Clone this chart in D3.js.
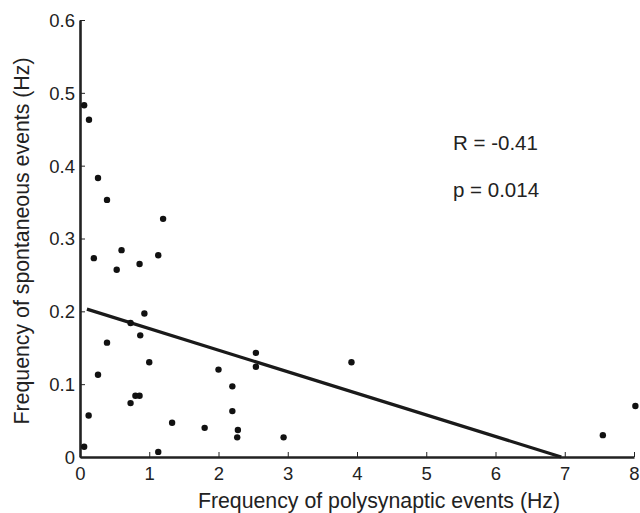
<!DOCTYPE html>
<html>
<head>
<meta charset="utf-8">
<script src="https://cdn.jsdelivr.net/npm/d3@7/dist/d3.min.js"></script>
<style>
  body { margin: 0; background: #fff; }
  svg text { font-family: "Liberation Sans", Arial, Helvetica, sans-serif; fill: #222; }
</style>
</head>
<body>
<div class="chart"></div>
<script>
// polysynaptic vs spontaneous event frequency
var polyHz = [0.06, 0.13, 0.26, 0.39, 1.2, 0.2, 0.6, 0.53, 0.86, 1.13, 0.93, 0.73, 0.87, 0.39,
  1.0, 0.26, 0.80, 0.86, 0.73, 0.125, 0.06, 1.13, 1.33, 1.8, 2.0, 2.2, 2.2, 2.28, 2.27,
  2.54, 2.54, 3.92, 2.94, 7.55, 8.02];
var spontHz = [0.483, 0.463, 0.383, 0.353, 0.327, 0.273, 0.284, 0.257, 0.265, 0.277, 0.197, 0.184, 0.167, 0.157,
  0.130, 0.113, 0.084, 0.084, 0.074, 0.057, 0.014, 0.007, 0.047, 0.040, 0.120, 0.097, 0.063, 0.037, 0.027,
  0.143, 0.124, 0.130, 0.027, 0.030, 0.070];

// regression line end points
var fitX = [0.1, 6.95];
var fitY = [0.203, 0];

var xTicks = [0, 1, 2, 3, 4, 5, 6, 7, 8];
var yTicks = [0, 0.1, 0.2, 0.3, 0.4, 0.5, 0.6];
var statLabels = ["R = -0.41", "p = 0.014"];

var svgWidth = 640;
var svgHeight = 513;
var margin = { top: 20, right: 6, bottom: 56, left: 80 };
var width = 634 - margin.left;
var height = 457 - margin.top;

var svg = d3.select(".chart")
  .append("svg")
  .attr("width", svgWidth)
  .attr("height", svgHeight);

var chartGroup = svg.append("g")
  .attr("transform", `translate(${margin.left}, ${margin.top})`);

var xScale = d3.scaleLinear().domain([0, 8]).range([0, width]);
var yScale = d3.scaleLinear().domain([0, 0.6]).range([height, 0]);

var bottomAxis = d3.axisBottom(xScale)
  .tickValues(xTicks)
  .tickFormat(d3.format("d"))
  .tickSizeInner(-5)
  .tickSizeOuter(0)
  .tickPadding(10);

var leftAxis = d3.axisLeft(yScale)
  .tickValues(yTicks)
  .tickFormat(d => d === 0 ? "0" : d3.format(".1f")(d))
  .tickSizeInner(-5)
  .tickSizeOuter(0)
  .tickPadding(5);

var xAxisG = chartGroup.append("g")
  .attr("transform", `translate(0, ${height})`)
  .call(bottomAxis);

var yAxisG = chartGroup.append("g")
  .call(leftAxis);

[xAxisG, yAxisG].forEach(function(g) {
  g.select(".domain").attr("stroke", "#222").attr("stroke-width", 2.6);
  g.selectAll(".tick line").attr("stroke", "#222").attr("stroke-width", 1);
  g.selectAll(".tick text").attr("font-size", "18.5px").attr("fill", "#222");
});
yAxisG.selectAll(".tick text").attr("dy", "0.35em");

// fit line
var line = d3.line()
  .x(d => xScale(d[0]))
  .y(d => yScale(d[1]));

chartGroup.append("path")
  .datum(d3.zip(fitX, fitY))
  .attr("d", line)
  .attr("fill", "none")
  .attr("stroke", "#1a1a1a")
  .attr("stroke-width", 3.2);

// points
chartGroup.selectAll("circle")
  .data(d3.zip(polyHz, spontHz))
  .enter()
  .append("circle")
  .attr("cx", d => xScale(d[0]))
  .attr("cy", d => yScale(d[1]))
  .attr("r", 3.2)
  .attr("fill", "#111");

// stats text
chartGroup.selectAll(".stat")
  .data(statLabels)
  .enter()
  .append("text")
  .attr("class", "stat")
  .attr("x", 373)
  .attr("y", (d, i) => 130 + i * 47)
  .attr("font-size", "20.5px")
  .text(d => d);

// axis labels
chartGroup.append("text")
  .attr("transform", "rotate(-90)")
  .attr("x", -221)
  .attr("y", 0 - margin.left + 29)
  .attr("text-anchor", "middle")
  .attr("font-size", "21.3px")
  .text("Frequency of spontaneous events (Hz)");

chartGroup.append("text")
  .attr("x", 299)
  .attr("y", height + 51)
  .attr("text-anchor", "middle")
  .attr("font-size", "21.3px")
  .text("Frequency of polysynaptic events (Hz)");
</script>
</body>
</html>
